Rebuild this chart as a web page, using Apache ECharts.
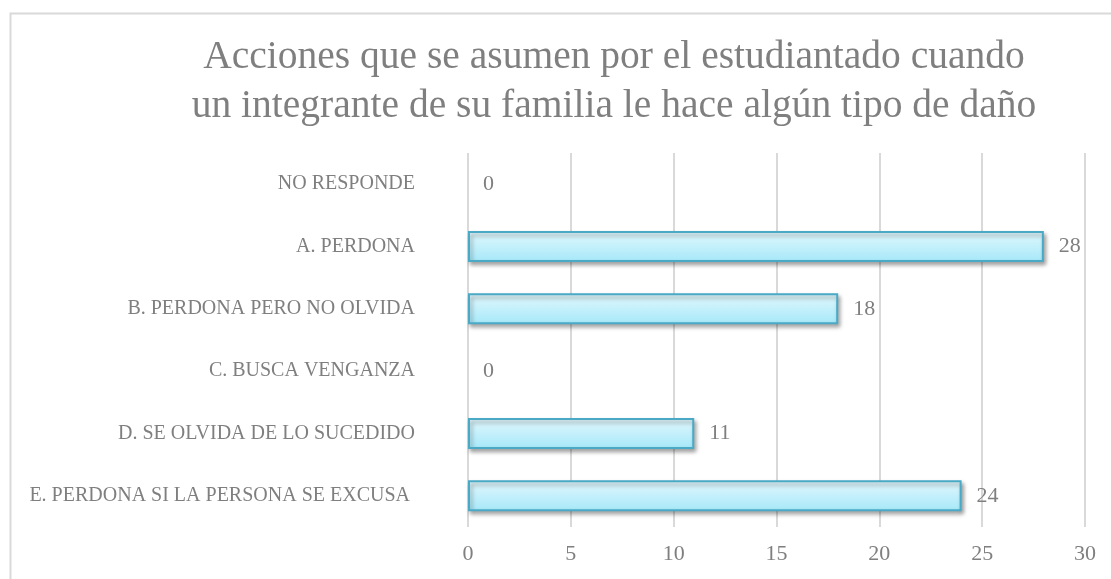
<!DOCTYPE html>
<html><head><meta charset="utf-8">
<script src="https://cdn.jsdelivr.net/npm/echarts@6/dist/echarts.min.js"></script>
<style>html,body{margin:0;padding:0;background:#fff}#c{width:1111px;height:579px}</style>
</head><body><div id="c"></div>
<script>
const titleText = 'Acciones que se asumen por el estudiantado cuando\nun integrante de su familia le hace algún tipo de daño';
const categories = ['NO RESPONDE','A. PERDONA','B. PERDONA PERO NO OLVIDA','C. BUSCA VENGANZA','D. SE OLVIDA DE LO SUCEDIDO','E. PERDONA SI LA PERSONA SE EXCUSA '];
const values = [0, 28, 18, 0, 11, 24];
const xTicks = [0, 5, 10, 15, 20, 25, 30];

const font = '"Liberation Serif", "DejaVu Serif", serif';
const chart = echarts.init(document.getElementById('c'));
const barData = values.map(v => v === 0 ? {value: v, itemStyle: {borderWidth: 0, shadowBlur: 0, shadowOffsetX: 0, shadowOffsetY: 0, opacity: 0}} : v);
chart.setOption({
  animation: false,
  graphic: [{type:'rect', shape:{x:10.5,y:13.5,width:1200,height:700}, style:{fill:'none', stroke:'#d9d9d9', lineWidth:2}, z:-1}],
  title: {text: titleText, left: 609, top: 28, textAlign: 'center',
    textStyle:{fontFamily: font, fontSize: 39.5, fontWeight: 'normal', color:'#7f7f7f', lineHeight: 49}},
  grid: {left: 468, right: 26, top: 153, bottom: 52},
  xAxis: {type:'value', min: xTicks[0], max: xTicks[xTicks.length-1], interval: 5,
    axisLine:{show:false}, axisTick:{show:false},
    splitLine:{show:true, lineStyle:{color:'#d9d9d9', width:2}},
    axisLabel:{fontFamily: font, fontSize: 22, color:'#7f7f7f', margin: 16}},
  yAxis: {type:'category', data: categories, inverse: true,
    axisLine:{show:false}, axisTick:{show:false},
    axisLabel:{fontFamily: font, fontSize: 20, color:'#7f7f7f', margin: 53}},
  series: [{type:'bar', data: barData, barWidth: 31,
    itemStyle:{
      color: new echarts.graphic.LinearGradient(0,0,0,1,[{offset:0,color:'#e2f8fd'},{offset:1,color:'#a6e8f9'}]),
      borderColor:'#4aaac6', borderWidth: 2,
      shadowColor:'rgba(0,0,0,0.35)', shadowBlur: 4, shadowOffsetX: 2, shadowOffsetY: 3},
    label:{show:true, position:'right', distance: 15, fontFamily: font, fontSize: 22, color:'#7f7f7f', opacity: 1}
  }]
});
</script></body></html>
